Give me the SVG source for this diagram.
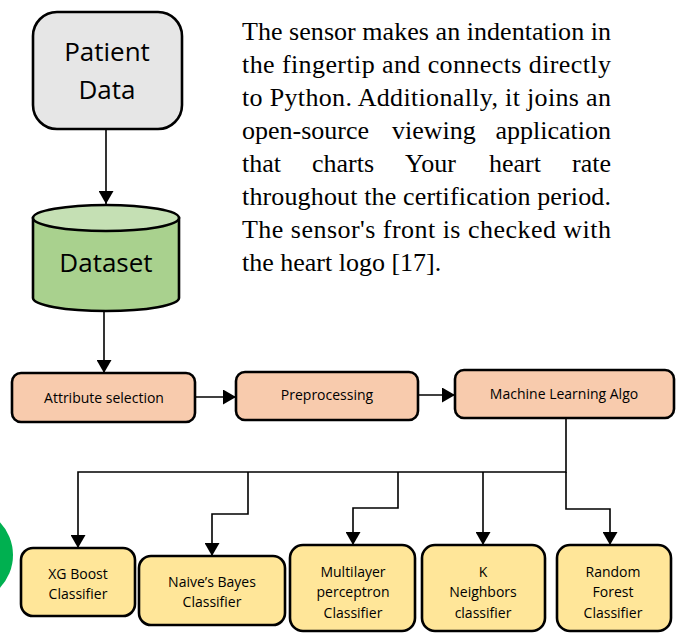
<svg xmlns="http://www.w3.org/2000/svg" width="679" height="633" viewBox="0 0 679 633">
  <style>
    .box { stroke: #000; stroke-width: 2.6; }
    .grey { fill: #e6e6e6; }
    .peach { fill: #f8cbad; }
    .yellow { fill: #ffe699; }
    .lbl { font-family: "Open Sans", "Liberation Sans", sans-serif; fill: #000; text-anchor: middle; }
    .big { font-size: 26px; }
    .small { font-size: 14px; }
    .para { font-family: "Liberation Serif", "Times New Roman", serif; font-size: 26px; fill: #000; }
    .wire { fill: none; stroke: #000; stroke-width: 1.6; }
  </style>
  <defs>
    <marker id="arrow" viewBox="0 0 13 15" refX="13" refY="7.5" markerWidth="13" markerHeight="15" markerUnits="userSpaceOnUse" orient="auto">
      <path d="M0,0 L13,7.5 L0,15 z" fill="#000"/>
    </marker>
  </defs>
  <rect width="679" height="633" fill="#fff"/>

  <!-- green shape clipped at the left edge -->
  <circle cx="-35" cy="555" r="48" fill="#00b050"/>

  <!-- description paragraph -->
  <g id="description">
    <text class="para" x="242" y="40" textLength="369" lengthAdjust="spacing">The sensor makes an indentation in</text>
    <text class="para" x="242" y="73" textLength="369" lengthAdjust="spacing">the fingertip and connects directly</text>
    <text class="para" x="242" y="106" textLength="369" lengthAdjust="spacing">to Python. Additionally, it joins an</text>
    <text class="para" y="139"><tspan x="242">open-source</tspan><tspan x="392">viewing</tspan></text>
    <text class="para" x="611" y="139" text-anchor="end">application</text>
    <text class="para" y="172"><tspan x="242">that</tspan><tspan x="312">charts</tspan><tspan x="405">Your</tspan><tspan x="489">heart</tspan></text>
    <text class="para" x="611" y="172" text-anchor="end">rate</text>
    <text class="para" x="242" y="205" textLength="369" lengthAdjust="spacing">throughout the certification period.</text>
    <text class="para" x="242" y="238" textLength="369" lengthAdjust="spacing">The sensor's front is checked with</text>
    <text class="para" x="242" y="271">the heart logo [17].</text>
  </g>

  <!-- connectors -->
  <g id="connectors">
    <path class="wire" d="M106,129 V204" marker-end="url(#arrow)"/>
    <path class="wire" d="M104,310 V373" marker-end="url(#arrow)"/>
    <path class="wire" d="M195,397 H236" marker-end="url(#arrow)"/>
    <path class="wire" d="M418,395 H455" marker-end="url(#arrow)"/>
    <path class="wire" d="M566,418 V472 H78 V548" marker-end="url(#arrow)"/>
    <path class="wire" d="M248,472 V514 H212 V556" marker-end="url(#arrow)"/>
    <path class="wire" d="M398,472 V508 H353 V545" marker-end="url(#arrow)"/>
    <path class="wire" d="M483,472 V545" marker-end="url(#arrow)"/>
    <path class="wire" d="M566,472 V509 H610 V545" marker-end="url(#arrow)"/>
  </g>

  <g id="patient-data">
    <rect class="box grey" x="33" y="12" width="149" height="117" rx="24"/>
    <text class="lbl big" x="107" y="61">Patient</text>
    <text class="lbl big" x="107" y="99">Data</text>
  </g>

  <g id="dataset">
    <path class="box" fill="#a9d18e" d="M33,218 V298 A73,13 0 0 0 179,298 V218 Z"/>
    <ellipse class="box" fill="#c5e0b4" cx="106" cy="218" rx="73" ry="13"/>
    <text class="lbl big" x="106" y="272">Dataset</text>
  </g>

  <g id="attribute-selection">
    <rect class="box peach" x="12" y="373" width="183" height="49" rx="9"/>
    <text class="lbl small" x="104" y="403">Attribute selection</text>
  </g>

  <g id="preprocessing">
    <rect class="box peach" x="236" y="372" width="182" height="48" rx="9"/>
    <text class="lbl small" x="327" y="400">Preprocessing</text>
  </g>

  <g id="ml-algo">
    <rect class="box peach" x="455" y="370" width="219" height="48" rx="9"/>
    <text class="lbl small" x="564" y="399">Machine Learning Algo</text>
  </g>

  <g id="xgboost">
    <rect class="box yellow" x="21" y="548" width="114" height="68" rx="12"/>
    <text class="lbl small" x="78" y="579">XG Boost</text>
    <text class="lbl small" x="78" y="599">Classifier</text>
  </g>

  <g id="naive-bayes">
    <rect class="box yellow" x="139" y="556" width="146" height="69" rx="12"/>
    <text class="lbl small" x="212" y="587">Naive’s Bayes</text>
    <text class="lbl small" x="212" y="607">Classifier</text>
  </g>

  <g id="multilayer-perceptron">
    <rect class="box yellow" x="290" y="545" width="125" height="86" rx="13"/>
    <text class="lbl small" x="353" y="577">Multilayer</text>
    <text class="lbl small" x="353" y="597">perceptron</text>
    <text class="lbl small" x="353" y="618">Classifier</text>
  </g>

  <g id="k-neighbors">
    <rect class="box yellow" x="422" y="545" width="123" height="86" rx="13"/>
    <text class="lbl small" x="483" y="577">K</text>
    <text class="lbl small" x="483" y="597">Neighbors</text>
    <text class="lbl small" x="483" y="618">classifier</text>
  </g>

  <g id="random-forest">
    <rect class="box yellow" x="557" y="545" width="114" height="86" rx="13"/>
    <text class="lbl small" x="613" y="577">Random</text>
    <text class="lbl small" x="613" y="597">Forest</text>
    <text class="lbl small" x="613" y="618">Classifier</text>
  </g>
</svg>
